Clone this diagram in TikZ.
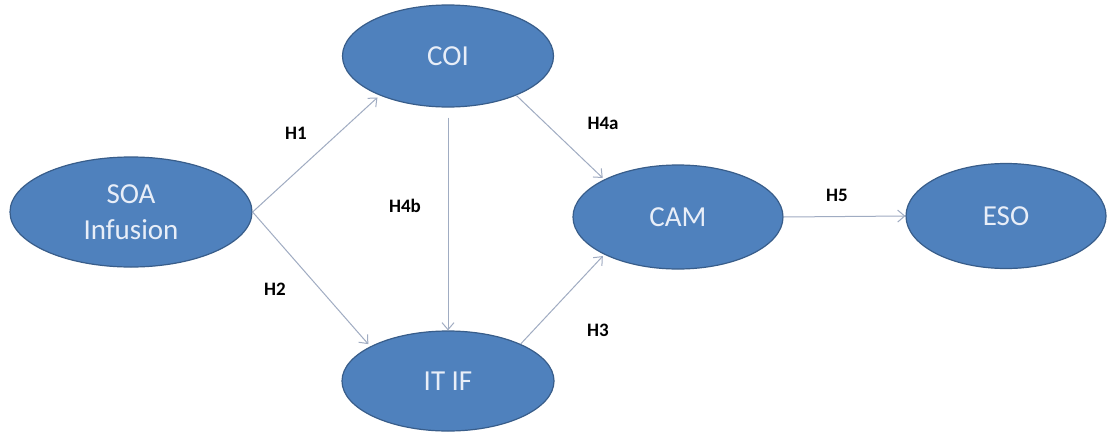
\documentclass[tikz,border=0pt]{standalone}
\usepackage{fontspec}
\setmainfont{Carlito}
\usetikzlibrary{shapes.geometric,arrows.meta}
\definecolor{ellfill}{RGB}{79,129,189}
\definecolor{elldraw}{RGB}{56,93,138}
\definecolor{elltext}{RGB}{232,238,248}
\definecolor{arrowcol}{RGB}{160,172,194}
\tikzset{
  construct/.style={ellipse, fill=ellfill, draw=elldraw, line width=1.2pt, inner sep=0pt,
    text=elltext, font=\fontsize{29}{36}\selectfont, align=center},
  link/.style={draw=arrowcol, line width=1pt, -{Straight Barb[length=7pt,width=12pt,line width=1pt]}},
  hyp/.style={font=\fontsize{19}{22}\selectfont\bfseries, text=black}
}
\begin{document}
\begin{tikzpicture}[x=1pt,y=-1pt]
\path[use as bounding box] (0,0) rectangle (1107,434);
\clip (0,0) rectangle (1107,434);
\fill[white] (0,0) rectangle (1107,434);

\node[construct, minimum width=242pt, minimum height=110pt] (soa) at (131,212) {SOA\\Infusion};
\node[construct, minimum width=211pt, minimum height=102pt] (coi) at (448,56) {COI};
\node[construct, minimum width=212pt, minimum height=100pt] (itif) at (448,381) {IT IF};
\node[construct, minimum width=210pt, minimum height=104pt] (cam) at (678,217) {CAM};
\node[construct, minimum width=200pt, minimum height=105pt] (eso) at (1006,216) {ESO};

\draw[link, shorten >=3pt] (soa.east) -- (coi.-150);
\draw[link, shorten >=3pt] (soa.east) -- (itif.156);
\draw[link] ([yshift=-10pt]coi.south) -- (itif.north);
\draw[link, shorten >=2pt] (coi.-30) -- (cam.153);
\draw[link, shorten >=2pt] (itif.27) -- (cam.-153);
\draw[link] (cam.east) -- (eso.west);

\node[hyp] (h1) at (296,133) {H1};
\node[hyp] (h2) at (275,289) {H2};
\node[hyp] (h4b) at (405,206) {H4b};
\node[hyp] (h4a) at (603,123) {H4a};
\node[hyp] (h3) at (598,330) {H3};
\node[hyp] (h5) at (837,195) {H5};
\end{tikzpicture}
\end{document}
